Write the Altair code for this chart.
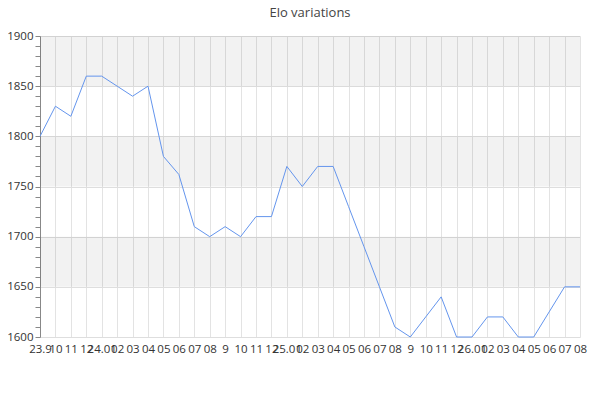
import altair as alt
import pandas as pd

month_labels = ["23.9", "10", "11", "12", "24.01", "02", "03", "04", "05", "06", "07", "08",
                "9", "10", "11", "12", "25.01", "02", "03", "04", "05", "06", "07", "08",
                "9", "10", "11", "12", "26.01", "02", "03", "04", "05", "06", "07", "08"]
elo = [1800, 1830, 1820, 1860, 1860, 1850, 1840, 1850, 1780, 1762, 1710, 1700,
       1710, 1700, 1720, 1720, 1770, 1750, 1770, 1770, 1730, 1690, 1650, 1610,
       1600, 1620, 1640, 1600, 1600, 1620, 1620, 1600, 1600, 1625, 1650, 1650]
band_low = [1650, 1750, 1850]
band_high = [1700, 1800, 1900]
y_ticks = list(range(1600, 1901, 10))

df = pd.DataFrame({"i": list(range(len(elo))), "elo": elo})
bands = pd.DataFrame({"lo": band_low, "hi": band_high})

label_arr = "[" + ",".join("'%s'" % s for s in month_labels) + "]"
font = "Open Sans"

xscale = alt.Scale(domain=[0, len(elo) - 1], nice=False, zero=False)
yscale = alt.Scale(domain=[1600, 1900], nice=False, zero=False)

yaxis = alt.Axis(title=None, values=y_ticks, format="d",
                 labelExpr="datum.value % 50 === 0 ? datum.label : ''",
                 labelOverlap=False, labelFont=font, labelFontSize=11.5,
                 labelColor="#333", tickColor="#888", domainColor="#888",
                 tickSize=5, labelPadding=2,
                 gridColor={"condition": {"test": "datum.value % 50 === 0", "value": "#dedede"},
                            "value": "transparent"})
xaxis = alt.Axis(title=None, values=list(range(len(elo))),
                 labelExpr=label_arr + "[datum.value]",
                 labelOverlap=False, labelAngle=0, labelFont=font, labelFontSize=11.5,
                 labelColor="#333", ticks=False, domain=False, labelPadding=6,
                 gridColor="#e3e3e3", labelFlush=False)

band_layer = alt.Chart(bands).mark_rect(color="#000000", opacity=0.05).encode(
    x=alt.value(0), x2=alt.value(540),
    y=alt.Y("lo:Q", scale=yscale, axis=yaxis),
    y2="hi:Q",
)

line_layer = alt.Chart(df).mark_line(color="#6495ed", strokeWidth=1).encode(
    x=alt.X("i:Q", scale=xscale, axis=xaxis),
    y=alt.Y("elo:Q", scale=yscale, axis=yaxis),
)

chart = alt.layer(band_layer, line_layer).properties(
    width=540, height=301,
    title=alt.TitleParams("Elo variations", font=font, fontSize=13, fontWeight="normal",
                          color="#444", offset=10),
    autosize=alt.AutoSizeParams(type="none"),
    padding={"left": 32, "top": 28, "right": 12, "bottom": 47},
).configure_view(stroke=None)

chart.save("out.html", embed_options={"renderer": "svg", "actions": False})
